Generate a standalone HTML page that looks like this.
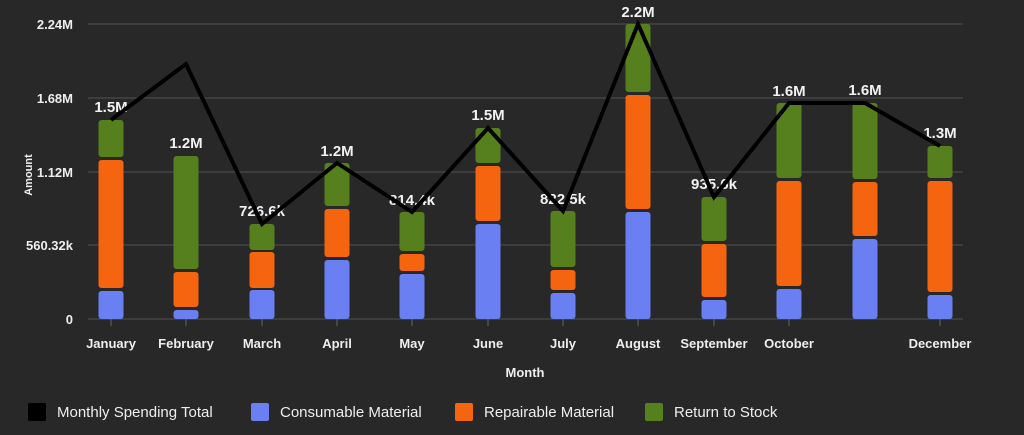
<!DOCTYPE html>
<html><head><style>
body{margin:0;background:#282828;}
svg{display:block;font-family:"Liberation Sans",sans-serif;}
</style></head><body>
<svg width="1024" height="435" viewBox="0 0 1024 435">
<rect width="1024" height="435" fill="#282828"/>
<g stroke="#4a4a4a" stroke-width="1.2">
<line x1="88" x2="963" y1="24" y2="24"/><line x1="88" x2="963" y1="98" y2="98"/>
<line x1="88" x2="963" y1="172" y2="172"/><line x1="88" x2="963" y1="245" y2="245"/>
<line x1="88" x2="963" y1="319" y2="319"/>
</g>
<g fill="#eee" font-size="13" font-weight="bold" text-anchor="end">
<text x="73" y="29">2.24M</text><text x="73" y="103">1.68M</text><text x="73" y="177">1.12M</text><text x="73" y="250">560.32k</text><text x="73" y="324">0</text>
</g>
<text transform="translate(32,175) rotate(-90)" fill="#eee" font-size="11" font-weight="bold" text-anchor="middle">Amount</text>
<g fill="#eee" font-size="13" font-weight="bold" text-anchor="middle">
<text x="111" y="348">January</text><text x="186" y="348">February</text><text x="262" y="348">March</text><text x="337" y="348">April</text><text x="412" y="348">May</text><text x="488" y="348">June</text><text x="563" y="348">July</text><text x="638" y="348">August</text><text x="714" y="348">September</text><text x="789" y="348">October</text><text x="940" y="348">December</text>
<text x="525" y="377">Month</text>
</g>
<g stroke="#666" stroke-width="1">
<line x1="111" x2="111" y1="319" y2="326"/><line x1="186" x2="186" y1="319" y2="326"/><line x1="262" x2="262" y1="319" y2="326"/><line x1="337" x2="337" y1="319" y2="326"/><line x1="412" x2="412" y1="319" y2="326"/><line x1="488" x2="488" y1="319" y2="326"/><line x1="563" x2="563" y1="319" y2="326"/><line x1="638" x2="638" y1="319" y2="326"/><line x1="714" x2="714" y1="319" y2="326"/><line x1="789" x2="789" y1="319" y2="326"/><line x1="940" x2="940" y1="319" y2="326"/>
</g>
<g fill="#6a7ff2">
<rect x="98.5" y="291" width="25" height="28" rx="3"/><rect x="173.5" y="310" width="25" height="9" rx="3"/><rect x="249.5" y="290" width="25" height="29" rx="3"/><rect x="324.5" y="260" width="25" height="59" rx="3"/><rect x="399.5" y="274" width="25" height="45" rx="3"/><rect x="475.5" y="224" width="25" height="95" rx="3"/><rect x="550.5" y="293" width="25" height="26" rx="3"/><rect x="625.5" y="212" width="25" height="107" rx="3"/><rect x="701.5" y="300" width="25" height="19" rx="3"/><rect x="776.5" y="289" width="25" height="30" rx="3"/><rect x="852.5" y="239" width="25" height="80" rx="3"/><rect x="927.5" y="295" width="25" height="24" rx="3"/>
</g>
<g fill="#f5640f">
<rect x="98.5" y="160" width="25" height="128" rx="3"/><rect x="173.5" y="272" width="25" height="35" rx="3"/><rect x="249.5" y="252" width="25" height="36" rx="3"/><rect x="324.5" y="209" width="25" height="48" rx="3"/><rect x="399.5" y="254" width="25" height="17" rx="3"/><rect x="475.5" y="166" width="25" height="55" rx="3"/><rect x="550.5" y="270" width="25" height="20" rx="3"/><rect x="625.5" y="95" width="25" height="114" rx="3"/><rect x="701.5" y="244" width="25" height="53" rx="3"/><rect x="776.5" y="181" width="25" height="105" rx="3"/><rect x="852.5" y="182" width="25" height="54" rx="3"/><rect x="927.5" y="181" width="25" height="111" rx="3"/>
</g>
<g fill="#55801d">
<rect x="98.5" y="120" width="25" height="37" rx="3"/><rect x="173.5" y="156" width="25" height="113" rx="3"/><rect x="249.5" y="224" width="25" height="26" rx="3"/><rect x="324.5" y="163" width="25" height="43" rx="3"/><rect x="399.5" y="212" width="25" height="39" rx="3"/><rect x="475.5" y="128" width="25" height="35" rx="3"/><rect x="550.5" y="211" width="25" height="56" rx="3"/><rect x="625.5" y="24" width="25" height="68" rx="3"/><rect x="701.5" y="197" width="25" height="44" rx="3"/><rect x="776.5" y="103" width="25" height="75" rx="3"/><rect x="852.5" y="103" width="25" height="76" rx="3"/><rect x="927.5" y="146" width="25" height="32" rx="3"/>
</g>
<g fill="#f2f2f2" font-size="15" font-weight="bold" text-anchor="middle">
<text x="111" y="112">1.5M</text><text x="186" y="148">1.2M</text><text x="262" y="216">726.6k</text><text x="337" y="156">1.2M</text><text x="412" y="205">814.4k</text><text x="488" y="120">1.5M</text><text x="563" y="204">822.5k</text><text x="638" y="17">2.2M</text><text x="714" y="189">935.6k</text><text x="789" y="96">1.6M</text><text x="865" y="95">1.6M</text><text x="940" y="138">1.3M</text>
</g>
<polyline fill="none" stroke="#000" stroke-width="4" points="111,120 186,64 262,224 337,163 412,212 488,128 563,211 638,24 714,197 789,103 865,103 940,146"/>
<g font-size="15" fill="#eee">
<rect x="28" y="403" width="18" height="18" rx="2" fill="#000"/><text x="57" y="417">Monthly Spending Total</text>
<rect x="251" y="403" width="18" height="18" rx="2" fill="#6a7ff2"/><text x="280" y="417">Consumable Material</text>
<rect x="455" y="403" width="18" height="18" rx="2" fill="#f5640f"/><text x="484" y="417">Repairable Material</text>
<rect x="645" y="403" width="18" height="18" rx="2" fill="#55801d"/><text x="674" y="417">Return to Stock</text>
</g>
</svg>
</body></html>
